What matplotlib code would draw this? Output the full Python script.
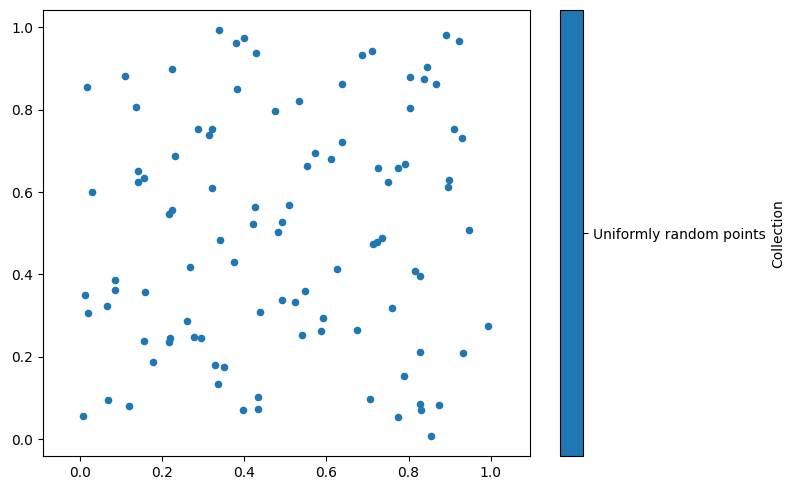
import matplotlib
matplotlib.use("Agg")
import matplotlib.pyplot as plt
from matplotlib.colors import ListedColormap, BoundaryNorm
from matplotlib.cm import ScalarMappable

# point positions
x_vals = [0.340, 0.380, 0.400, 0.430, 0.224, 0.110, 0.018, 0.383, 0.138, 0.476,
          0.287, 0.322, 0.314, 0.232, 0.141, 0.156, 0.142, 0.031, 0.322, 0.224,
          0.218, 0.426, 0.422, 0.491, 0.482, 0.510, 0.890, 0.922, 0.686, 0.710,
          0.845, 0.803, 0.838, 0.867, 0.639, 0.533, 0.804, 0.910, 0.930, 0.638,
          0.573, 0.611, 0.553, 0.725, 0.774, 0.792, 0.751, 0.898, 0.896, 0.948,
          0.342, 0.375, 0.269, 0.087, 0.087, 0.012, 0.158, 0.067, 0.019, 0.492,
          0.439, 0.260, 0.278, 0.294, 0.156, 0.220, 0.218, 0.179, 0.328, 0.351,
          0.336, 0.070, 0.007, 0.120, 0.433, 0.398, 0.434, 0.713, 0.724, 0.736,
          0.625, 0.815, 0.827, 0.548, 0.524, 0.760, 0.592, 0.588, 0.541, 0.675,
          0.993, 0.829, 0.933, 0.789, 0.705, 0.827, 0.831, 0.874, 0.774, 0.855]
y_vals = [0.993, 0.961, 0.974, 0.938, 0.898, 0.881, 0.856, 0.851, 0.807, 0.797,
          0.753, 0.752, 0.739, 0.688, 0.652, 0.633, 0.624, 0.600, 0.609, 0.557,
          0.546, 0.564, 0.523, 0.527, 0.504, 0.568, 0.981, 0.966, 0.933, 0.943,
          0.904, 0.880, 0.874, 0.863, 0.862, 0.822, 0.803, 0.753, 0.731, 0.721,
          0.694, 0.680, 0.663, 0.658, 0.659, 0.668, 0.625, 0.629, 0.613, 0.508,
          0.484, 0.430, 0.418, 0.387, 0.362, 0.349, 0.357, 0.324, 0.307, 0.337,
          0.308, 0.288, 0.249, 0.245, 0.238, 0.245, 0.235, 0.188, 0.180, 0.176,
          0.134, 0.095, 0.057, 0.080, 0.103, 0.070, 0.073, 0.474, 0.478, 0.489,
          0.413, 0.409, 0.396, 0.361, 0.334, 0.319, 0.294, 0.263, 0.252, 0.265,
          0.276, 0.213, 0.209, 0.154, 0.098, 0.086, 0.071, 0.083, 0.055, 0.009]
collections = ["Uniformly random points"]
colors = ["#1f77b4"]

fig = plt.figure(figsize=(7.94, 4.90), dpi=100)
ax = fig.add_axes([0.0538, 0.0694, 0.614, 0.9096])
cax = fig.add_axes([0.7057, 0.0694, 0.029, 0.9096])

ax.scatter(x_vals, y_vals, s=20, color=colors[0])
ax.set_xlim(-0.090, 1.096)
ax.set_ylim(-0.0405, 1.041)
ax.set_xticks([0.0, 0.2, 0.4, 0.6, 0.8, 1.0])
ax.set_yticks([0.0, 0.2, 0.4, 0.6, 0.8, 1.0])

# one-category colorbar
cmap = ListedColormap(colors)
norm = BoundaryNorm([-0.5, 0.5], cmap.N)
cb = fig.colorbar(ScalarMappable(norm=norm, cmap=cmap), cax=cax)
cb.set_ticks([0])
cb.set_ticklabels(collections)
cb.ax.minorticks_off()
cb.set_label("Collection")

fig.savefig("out.png", dpi=100)
